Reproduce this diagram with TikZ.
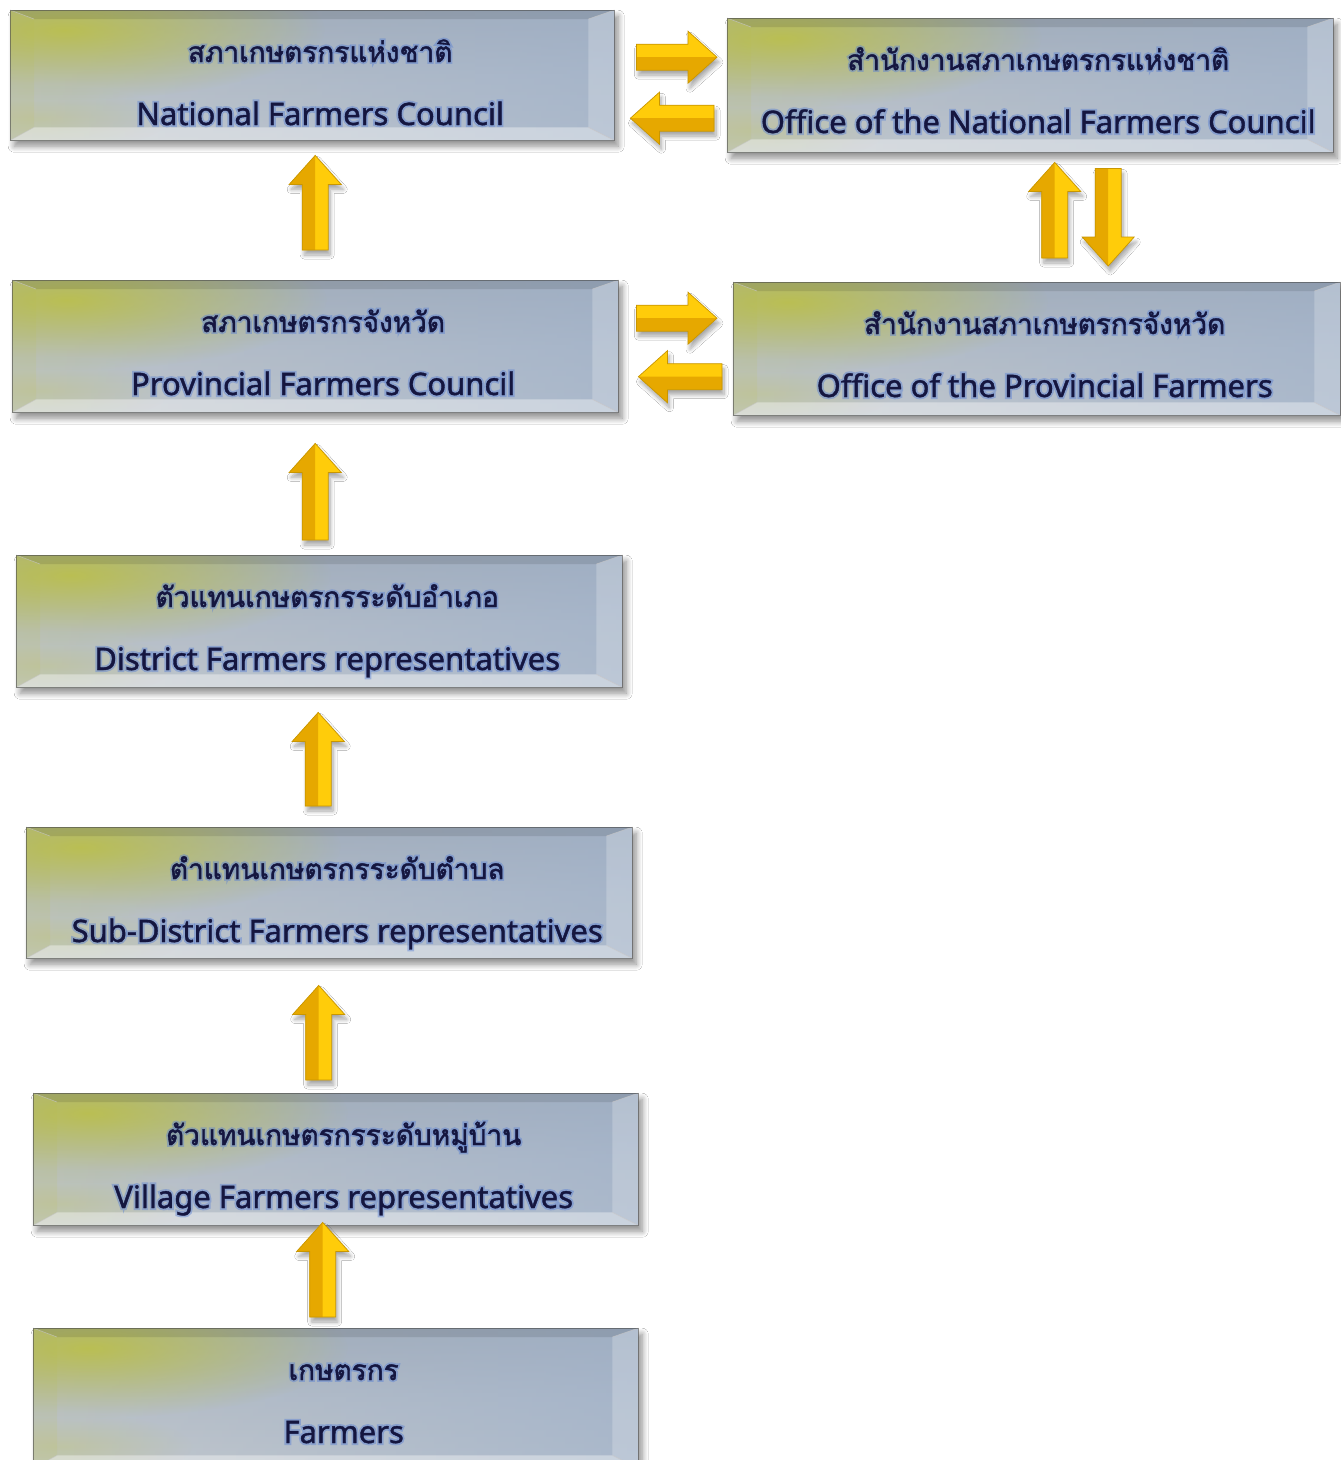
\documentclass[tikz,border=0pt]{standalone}
\usepackage{fontspec}
\setmainfont{Noto Sans}[FakeBold=1.2]
\newfontfamily\thaifont[Script=Thai,FakeBold=1.4]{Loma}
\newfontfamily\latinglow[FakeBold=13]{Noto Sans}
\newfontfamily\thaiglow[Script=Thai,FakeBold=14]{Loma}
\usetikzlibrary{calc,shadows.blur,fadings}
\definecolor{txtc}{HTML}{15163F}
\definecolor{glowc}{HTML}{5A80D4}
\definecolor{boxtop}{HTML}{A5ADB6}
\definecolor{boxmid}{HTML}{B8BFC7}
\definecolor{boxbot}{HTML}{C4C9CC}
\definecolor{bluish}{HTML}{9DB0CB}
\definecolor{yolive}{HTML}{BEC23A}
\definecolor{arrbright}{HTML}{FFCC0A}
\definecolor{arrdark}{HTML}{E6A800}
\definecolor{arredge}{HTML}{C99600}
\tikzfading[name=fadeR, left color=transparent!100, right color=transparent!0]
\tikzfading[name=radfade, inner color=transparent!15, outer color=transparent!100]
\newcommand\farmbox[7]{%
  \node[boxbase, anchor=north west, minimum width=#4, minimum height=#5] (#1) at (#2,-#3) {};
  \begin{scope}
    \clip (#1.south west) rectangle (#1.north east);
    \fill[bluish, path fading=fadeR, opacity=0.65] (#1.south west) rectangle (#1.north east);
    \fill[yolive, path fading=radfade, opacity=0.95] ($(#1.north west)+(55,-20)$) ellipse (260 and 70);
    \fill[yolive, path fading=radfade, opacity=0.3] ($(#1.south west)+(30,22)$) ellipse (130 and 34);
  \end{scope}
  \coordinate (#1-inw) at ($(#1.north west)+(24,-9)$);
  \coordinate (#1-ine) at ($(#1.north east)+(-26,-9)$);
  \coordinate (#1-isw) at ($(#1.south west)+(24,13)$);
  \coordinate (#1-ise) at ($(#1.south east)+(-26,13)$);
  \fill[black, opacity=0.10] (#1.north west) -- (#1.north east) -- (#1-ine) -- (#1-inw) -- cycle;
  \fill[white, opacity=0.38] (#1.south west) -- (#1.south east) -- (#1-ise) -- (#1-isw) -- cycle;
  \fill[yolive, opacity=0.10] (#1.north west) -- (#1-inw) -- (#1-isw) -- (#1.south west) -- cycle;
  \fill[white, opacity=0.22] (#1.north east) -- (#1-ine) -- (#1-ise) -- (#1.south east) -- cycle;
  \draw[gray!45, line width=0.6pt, opacity=0.7] (#1.north west) -- (#1-inw) (#1.north east) -- (#1-ine)
     (#1.south west) -- (#1-isw) (#1.south east) -- (#1-ise);
  \draw[boxedge] (#1.south west) rectangle (#1.north east);
  \coordinate (#1-tp) at ($(#1.north)+(8,-52)$);
  \coordinate (#1-ep) at ($(#1.north)+(8,-115)$);
  \node[glowtxt, font=\thaiglow\fontsize{28}{34}\selectfont] (#1-thg) at (#1-tp) {#6};
  \node[glowtxt, font=\latinglow\fontsize{31}{36}\selectfont] (#1-eng) at (#1-ep) {#7};
  \node[maintxt, font=\thaifont\fontsize{28}{34}\selectfont] (#1-th) at (#1-tp) {#6};
  \node[maintxt, font=\fontsize{31}{36}\selectfont] (#1-en) at (#1-ep) {#7};
}
% block arrow from tail #1 to tip #2, #3 = side of the dark half (+1/-1)
\newcommand\blockarrow[3]{%
  \path[arrowfill] let \p1=(#1), \p2=(#2), \n1={atan2(\y2-\y1,\x2-\x1)}, \n2={veclen(\x2-\x1,\y2-\y1)} in
    [shift={(\p1)}, rotate=\n1]
    (0pt,-13pt) -- ({\n2-29pt},-13pt) -- ({\n2-29pt},-26pt) -- (\n2,0pt) -- ({\n2-29pt},26pt) -- ({\n2-29pt},13pt) -- (0pt,13pt) -- cycle;
  \path[arrowdark] let \p1=(#1), \p2=(#2), \n1={atan2(\y2-\y1,\x2-\x1)}, \n2={veclen(\x2-\x1,\y2-\y1)} in
    [shift={(\p1)}, rotate=\n1]
    (0pt,0pt) -- (0pt,{#3*13pt}) -- ({\n2-29pt},{#3*13pt}) -- ({\n2-29pt},{#3*26pt}) -- (\n2,0pt) -- cycle;
  \path[arrowline] let \p1=(#1), \p2=(#2), \n1={atan2(\y2-\y1,\x2-\x1)}, \n2={veclen(\x2-\x1,\y2-\y1)} in
    [shift={(\p1)}, rotate=\n1]
    (0pt,-13pt) -- ({\n2-29pt},-13pt) -- ({\n2-29pt},-26pt) -- (\n2,0pt) -- ({\n2-29pt},26pt) -- ({\n2-29pt},13pt) -- (0pt,13pt) -- cycle;
}
\tikzset{
  boxbase/.style={rectangle, inner sep=0pt, top color=boxtop, bottom color=boxbot, middle color=boxmid,
    blur shadow={shadow xshift=4pt, shadow yshift=-6pt, shadow blur radius=6pt, shadow opacity=45, shadow blur steps=10}},
  boxedge/.style={draw=gray!60!black, line width=0.8pt, opacity=0.6},
  glowtxt/.style={anchor=base, inner sep=0pt, text=glowc, opacity=0.45},
  maintxt/.style={anchor=base, inner sep=0pt, text=txtc},
  arrowfill/.style={fill=arrbright,
    blur shadow={shadow xshift=2pt, shadow yshift=-5pt, shadow blur radius=4pt, shadow opacity=35, shadow blur steps=8}},
  arrowdark/.style={fill=arrdark},
  arrowline/.style={draw=arredge, line width=0.7pt, line join=miter},
}
\begin{document}
\begin{tikzpicture}[x=1pt, y=1pt]
\useasboundingbox[fill=white] (0,0) rectangle (1341,-1460);
\farmbox{b1}{10}{10}{604}{130}{สภาเกษตรกรแห่งชาติ}{National Farmers Council}
\farmbox{b2}{727}{18}{606}{134}{สำนักงานสภาเกษตรกรแห่งชาติ}{Office of the National Farmers Council}
\farmbox{b3}{12}{280}{606}{132}{สภาเกษตรกรจังหวัด}{Provincial Farmers Council}
\farmbox{b4}{733}{282}{607}{133}{สำนักงานสภาเกษตรกรจังหวัด}{Office of the Provincial Farmers}
\farmbox{b5}{16}{555}{606}{132}{ตัวแทนเกษตรกรระดับอำเภอ}{District Farmers representatives}
\farmbox{b6}{26}{827}{606}{131}{ตำแทนเกษตรกรระดับตำบล}{Sub-District Farmers representatives}
\farmbox{b7}{33}{1093}{605}{132}{ตัวแทนเกษตรกรระดับหมู่บ้าน}{Village Farmers representatives}
\farmbox{b8}{33}{1328}{605}{140}{เกษตรกร}{Farmers}

% vertical chain (upward)
\coordinate (a1t) at ($(b3.north)+(0,30)$);
\coordinate (a1h) at ($(a1t |- b1.south)+(0,-15)$);
\coordinate (a2t) at ($(b5.north)+(-4,15)$);
\coordinate (a2h) at ($(a2t |- b3.south)+(0,-31)$);
\coordinate (a3t) at ($(b6.north)+(-11,21)$);
\coordinate (a3h) at ($(a3t |- b5.south)+(0,-25)$);
\coordinate (a4t) at ($(b7.north)+(-17,13)$);
\coordinate (a4h) at ($(a4t |- b6.south)+(0,-27)$);
\coordinate (a5t) at ($(b8.north)+(-13,11)$);
\coordinate (a5h) at ($(a5t |- b7.south)+(0,3)$);
\blockarrow{a1t}{a1h}{1}
\blockarrow{a2t}{a2h}{1}
\blockarrow{a3t}{a3h}{1}
\blockarrow{a4t}{a4h}{1}
\blockarrow{a5t}{a5h}{1}

% horizontal pairs
\coordinate (h1t) at ($(b1.east)+(22,18)$);
\coordinate (h1h) at ($(h1t -| b2.west)+(-10,0)$);
\coordinate (h2t) at ($(b2.west)+(-13,-33)$);
\coordinate (h2h) at ($(h2t -| b1.east)+(16,0)$);
\coordinate (h3t) at ($(b3.east)+(18,28)$);
\coordinate (h3h) at ($(h3t -| b4.west)+(-16,0)$);
\coordinate (h4t) at ($(b4.west)+(-11,-28)$);
\coordinate (h4h) at ($(h4t -| b3.east)+(20,0)$);
\blockarrow{h1t}{h1h}{-1}
\blockarrow{h2t}{h2h}{1}
\blockarrow{h3t}{h3h}{-1}
\blockarrow{h4t}{h4h}{1}

% vertical pair between offices
\coordinate (v1t) at ($(b4.north)+(18,24)$);
\coordinate (v1h) at ($(v1t |- b2.south)+(0,-10)$);
\coordinate (v2t) at ($(b2.south)+(78,-16)$);
\coordinate (v2h) at ($(v2t |- b4.north)+(0,16)$);
\blockarrow{v1t}{v1h}{1}
\blockarrow{v2t}{v2h}{-1}
\end{tikzpicture}
\end{document}
